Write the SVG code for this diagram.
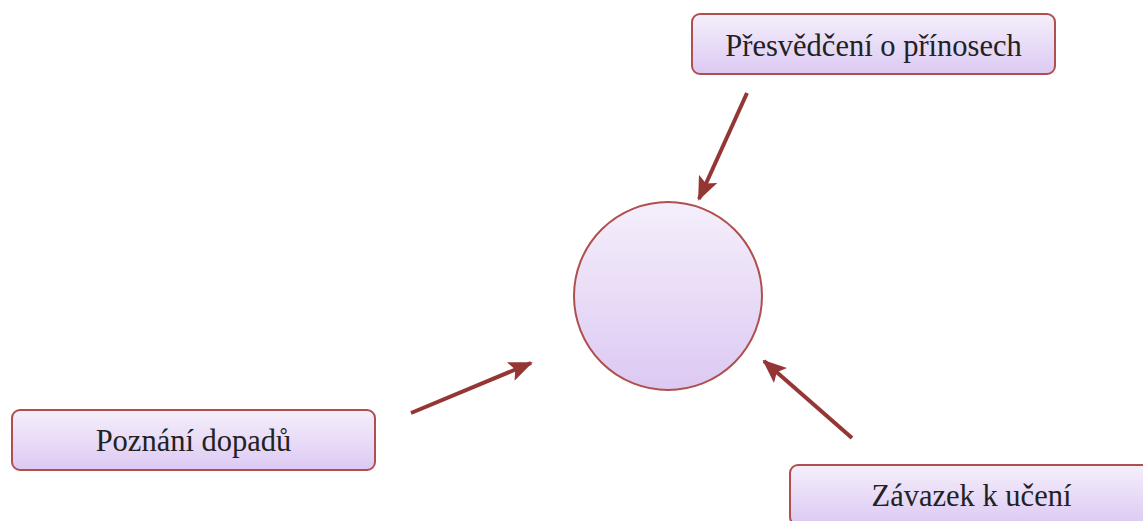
<svg xmlns="http://www.w3.org/2000/svg" width="1143" height="521" viewBox="0 0 1143 521">
<defs>
<linearGradient id="g" x1="0" y1="0" x2="0" y2="1">
<stop offset="0" stop-color="#f5effb"/>
<stop offset="1" stop-color="#dcc9f3"/>
</linearGradient>
<marker id="ah" markerUnits="userSpaceOnUse" markerWidth="24" markerHeight="20" refX="22" refY="10" orient="auto" viewBox="0 0 24 20">
<path d="M0,0 L24,10 L0,20 L5,10 Z" fill="#943634"/>
</marker>
<style>
.box{fill:url(#g);stroke:#b0504e;stroke-width:2}
.lbl{font-family:"Liberation Serif","Times New Roman",serif;font-size:30.5px;fill:#222;text-anchor:middle}
.con{stroke:#943634;stroke-width:4;fill:none;marker-end:url(#ah)}
</style>
</defs>
<rect width="1143" height="521" fill="#fff"/>
<g id="center">
<circle cx="668" cy="296" r="94" class="box"/>
</g>
<g id="n1">
<rect x="692" y="14" width="363" height="60" rx="8" class="box"/>
<text x="873.5" y="56" class="lbl">Přesvědčení o přínosech</text>
</g>
<g id="n2">
<rect x="12" y="410" width="363" height="60" rx="8" class="box"/>
<text x="193.5" y="451" class="lbl">Poznání dopadů</text>
</g>
<g id="n3">
<rect x="790" y="465" width="363" height="60" rx="8" class="box"/>
<text x="971.5" y="506" class="lbl">Závazek k učení</text>
</g>
<g id="connectors">
<line x1="747" y1="93" x2="699" y2="199" class="con"/>
<line x1="411" y1="413" x2="531" y2="363" class="con"/>
<line x1="852" y1="438" x2="764" y2="361" class="con"/>
</g>
</svg>
